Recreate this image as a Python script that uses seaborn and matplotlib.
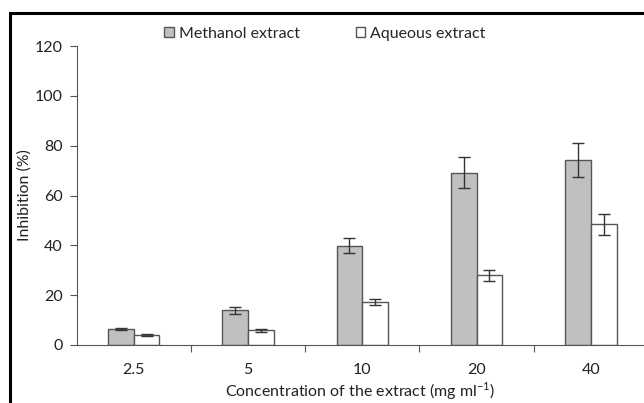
import numpy as np
import pandas as pd
import matplotlib
matplotlib.use("Agg")
import matplotlib.pyplot as plt
import seaborn as sns
from matplotlib.patches import Rectangle
from matplotlib.ticker import FixedLocator

# ── data ────────────────────────────────────────────────────────────────────
concentrations = ["2.5", "5", "10", "20", "40"]
methanol       = [6.5, 13.9, 39.8, 69.2, 74.2]
methanol_err   = [0.5, 1.3, 3.0, 6.3, 6.7]
aqueous        = [4.0, 5.9, 17.2, 28.0, 48.5]
aqueous_err    = [0.4, 0.5, 1.3, 2.2, 4.2]
series         = ["Methanol extract", "Aqueous extract"]

df = pd.DataFrame({
    "conc": concentrations * 2,
    "value": methanol + aqueous,
    "extract": [series[0]] * 5 + [series[1]] * 5,
})
errs = methanol_err + aqueous_err

sns.set_theme(style="white")
plt.rcParams["font.family"] = ["Lato", "DejaVu Sans"]

fig = plt.figure(figsize=(6.44, 4.03), dpi=100)
ax = fig.add_axes([76.5 / 644, 1 - 345 / 403, 1 - 76.5 / 644, (345 - 46) / 403])

sns.barplot(data=df, x="conc", y="value", hue="extract", hue_order=series,
            palette=["#c0c0c0", "white"], width=0.45, gap=0,
            edgecolor="#555555", linewidth=1.0, errorbar=None, ax=ax)

# error bars on bar centres
for patch, err in zip(ax.patches[:10], errs):
    xc = patch.get_x() + patch.get_width() / 2
    ax.errorbar(xc, patch.get_height(), yerr=err, color="#333333",
                elinewidth=1.0, capsize=4, capthick=1.0, fmt="none")

ax.set_ylim(0, 120)
ax.set_xlim(-0.5, 4.465)
ax.set_yticks(range(0, 121, 20))
ax.xaxis.set_minor_locator(FixedLocator([0.5, 1.5, 2.5, 3.5]))
ax.tick_params(axis="x", which="major", length=0, labelsize=11.5, pad=13, colors="#222222")
ax.tick_params(axis="x", which="minor", length=5, width=0.8, color="#555555", bottom=True)
ax.tick_params(axis="y", length=5, width=0.8, color="#555555", left=True,
               labelsize=11.5, pad=5, labelcolor="#222222")

for side in ["top", "right"]:
    ax.spines[side].set_visible(False)
for side in ["left", "bottom"]:
    ax.spines[side].set_color("#555555")
    ax.spines[side].set_linewidth(0.8)

ax.set_xlabel(r"Concentration of the extract (mg ml$^{\mathregular{-1}}$)", fontsize=11.5, color="#222222")
ax.set_ylabel("Inhibition (%)", fontsize=11.5, color="#222222")
ax.xaxis.set_label_coords(0.5, -(391 - 345) / 299, transform=ax.transAxes)
ax.xaxis.label.set_va("center")
ax.yaxis.set_label_coords(-(76.5 - 25) / 567.5, 0.5)
ax.yaxis.label.set_va("center")

handles, labels = ax.get_legend_handles_labels()
ax.legend(handles, labels, loc="center left", bbox_to_anchor=(150 / 644, 1 - 34 / 403),
          bbox_transform=fig.transFigure, ncol=2, frameon=False, fontsize=11.5,
          handlelength=0.6, handleheight=0.6, handletextpad=0.3, columnspacing=3.5)

# outer frame (partly cropped)
fig.add_artist(Rectangle((10 / 644, -0.1), 1.2, 1 - 13 / 403 + 0.1, transform=fig.transFigure,
                         fill=False, edgecolor="black", linewidth=2.2))

fig.savefig("out.png", dpi=100)
